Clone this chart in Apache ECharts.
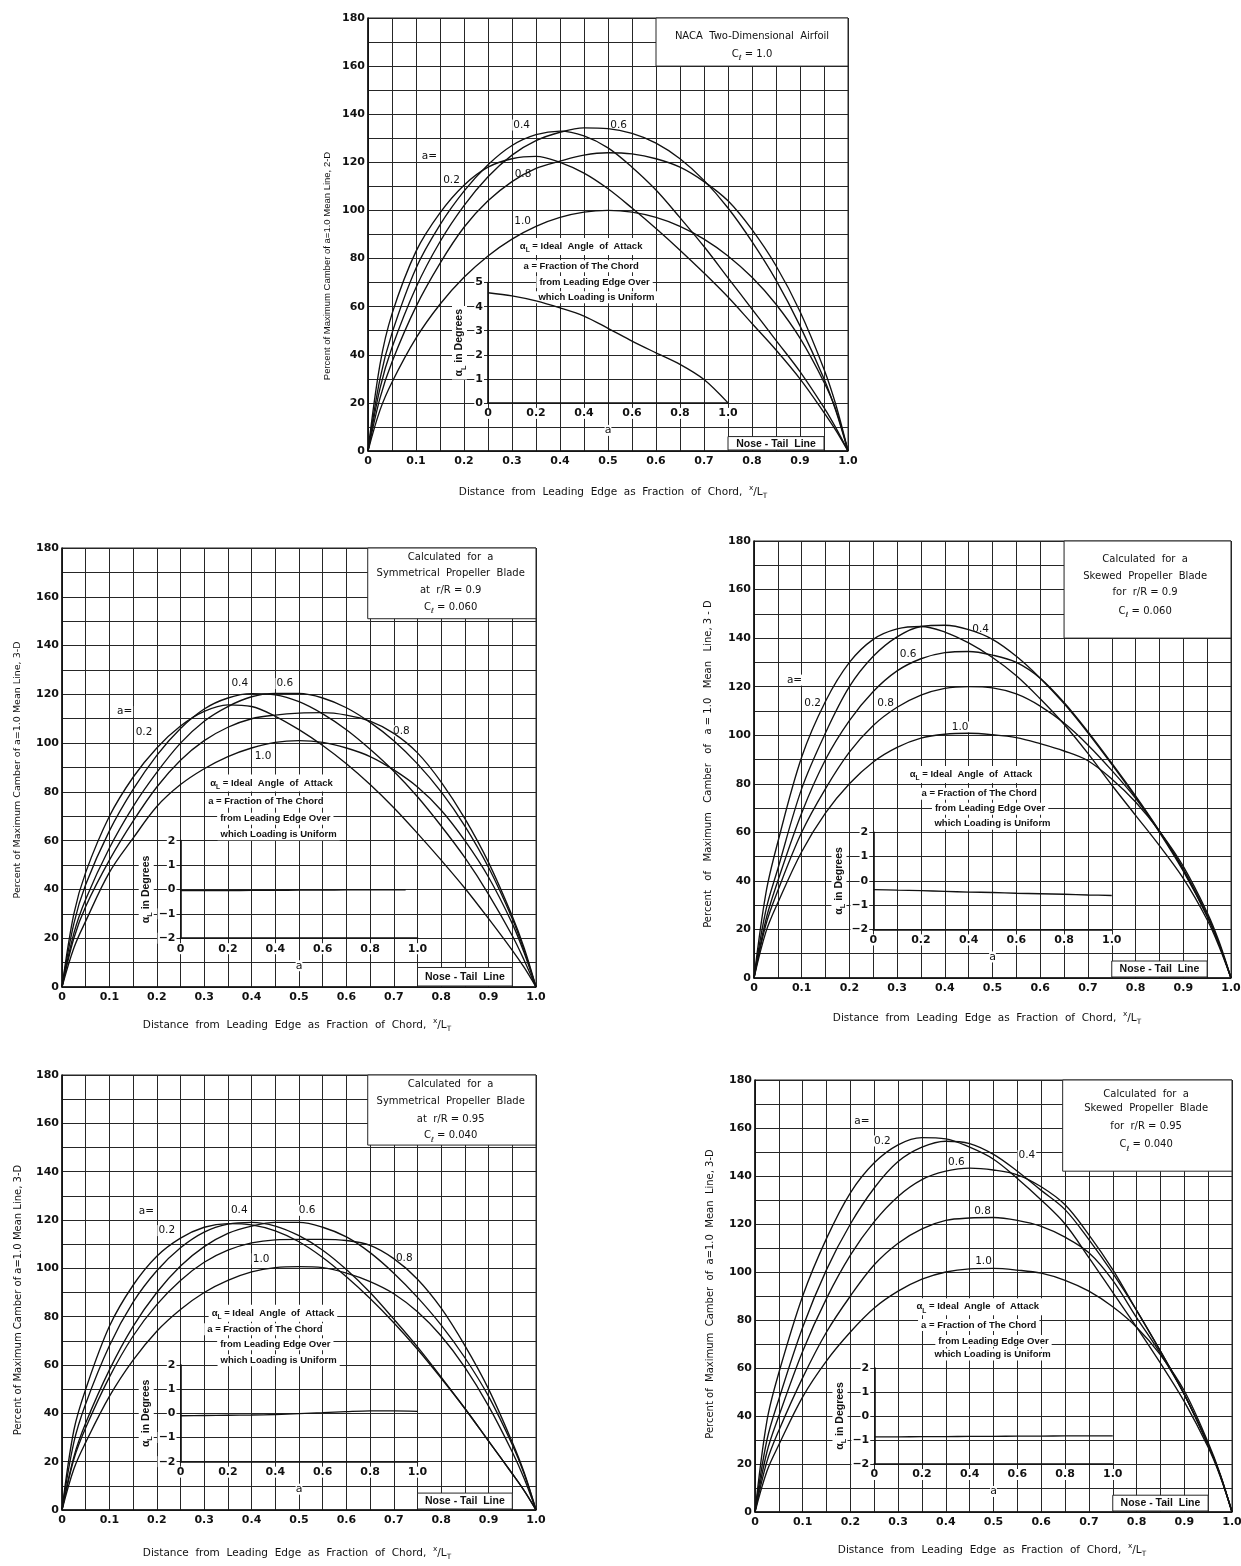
<!DOCTYPE html>
<html>
<head>
<meta charset="utf-8">
<script src="https://cdn.jsdelivr.net/npm/echarts@6/dist/echarts.min.js"></script>
<style>
  html, body { margin: 0; padding: 0; background: #fff; }
  #chart { width: 1241px; height: 1566px; }
</style>
</head>
<body>
<div id="chart"></div>
<script>
// Chordwise stations x/L_T shared by every camber curve
const xStations = [0, 0.025, 0.05, 0.1, 0.15, 0.2, 0.25, 0.3, 0.35, 0.4, 0.45, 0.5, 0.55, 0.6, 0.65, 0.7, 0.75, 0.8, 0.85, 0.9, 0.95, 0.975, 1];

// NACA two-dimensional airfoil, Cl = 1.0 (percent of a=1.0 max camber)
const twoD_a02 = [0, 36, 57, 83, 99, 110.5, 118, 121.5, 122.5, 120, 115.5, 109, 101, 92.5, 83.5, 74, 64, 53, 42, 30, 16, 8.5, 0];
const twoD_a04 = [0, 30, 49, 76, 94, 108, 119, 127, 131.5, 133, 131, 126, 118, 108.5, 97, 85, 72, 59, 46, 33, 18, 9.5, 0];
const twoD_a06 = [0, 26, 43, 68, 87, 102, 114, 123, 129, 132.5, 134.3, 134, 132, 128, 121.5, 112.5, 101, 87, 71, 52, 30, 16.5, 0];
const twoD_a08 = [0, 22, 37, 60, 78, 93, 104, 112, 117.5, 120.5, 123, 124, 123.5, 121.5, 118, 112, 104, 92, 77, 58, 34, 19, 0];
const twoD_a10 = [0, 17, 28.6, 46.9, 61, 72.2, 81.1, 88.1, 93.4, 97.1, 99.3, 100, 99.3, 97.1, 93.4, 88.1, 81.1, 72.2, 61, 46.9, 28.6, 17, 0];

// Symmetrical propeller blade, r/R = 0.9, Cl = 0.060
const symR90_a02 = [0, 30, 47, 70, 86, 98, 107, 113, 115.7, 115, 111, 105.5, 99, 91.5, 83, 73.5, 63, 52, 40.5, 28, 15, 8, 0];
const symR90_a04 = [0, 26, 42, 64, 81, 95, 106, 114, 118.5, 120.3, 119.8, 117, 112, 105.5, 97.5, 88.5, 78, 66, 53, 38, 21, 11, 0];
const symR90_a06 = [0, 22, 36, 57, 74, 88, 100, 109, 115, 119, 120.4, 120.4, 118.5, 114.5, 108.5, 101, 91.5, 80, 66, 49, 28, 15, 0];
const symR90_a08 = [0, 20, 33, 52, 68, 82, 93, 101, 106.5, 110, 111.5, 112.3, 112.5, 111.5, 109, 104, 96, 84, 69, 51, 29, 16, 0];
const symR90_a10 = [0, 16, 27, 47, 61, 74, 83, 89.5, 94.5, 98, 100.3, 101, 100.3, 98, 94.5, 89, 82, 72.5, 60, 45, 26, 14, 0];

// Skewed propeller blade, r/R = 0.9, Cl = 0.060
const skewR90_a02 = [0, 35, 56, 91, 114, 130, 139.5, 143.8, 144.8, 142.5, 138, 132, 124.5, 115, 104.5, 92.5, 79.5, 67, 54.5, 41, 24, 13, 0];
const skewR90_a04 = [0, 28, 45, 78, 101, 120, 132.5, 140.5, 144.8, 145.3, 143.5, 139.5, 132.5, 123.5, 113, 101, 88, 74.5, 60, 44, 25.5, 14, 0];
const skewR90_a06 = [0, 24, 40, 68, 90, 106, 118, 126.5, 131.5, 134, 134.5, 133, 130, 123.5, 113.5, 101.5, 88.5, 75, 60.5, 44.5, 25.5, 14, 0];
const skewR90_a08 = [0, 22, 36, 60, 78, 93, 104, 111.5, 116.5, 119.3, 120, 119.5, 117, 112, 105, 96, 85.5, 74, 60.5, 45, 26, 14, 0];
const skewR90_a10 = [0, 19, 31, 52, 68, 80, 89, 95, 98.8, 100.4, 100.8, 100.2, 99, 96.5, 93.5, 89.5, 82, 72.5, 60.5, 46, 27, 15, 0];

// Symmetrical propeller blade, r/R = 0.95, Cl = 0.040
const symR95_a02 = [0, 33, 50, 76, 93, 105, 112.5, 117, 118.5, 118, 115.5, 111, 104.5, 96.5, 87.5, 77.5, 66.5, 54.5, 42, 28.5, 15, 8, 0];
const symR95_a04 = [0, 28, 44, 68, 86, 99, 108.5, 115, 118.3, 119, 117.5, 113.5, 107.5, 99.5, 90, 79, 67.5, 55, 42, 28.5, 15, 8, 0];
const symR95_a06 = [0, 22, 36, 58, 76, 90, 101, 109, 114.5, 117.5, 119, 119, 117, 113, 106.5, 98, 88, 76.5, 63, 47, 27, 15, 0];
const symR95_a08 = [0, 21, 34, 55, 72, 85, 95, 102.5, 107.5, 110.5, 111.8, 112, 112, 111.5, 109.5, 104, 95.5, 83.5, 68, 50, 28, 15.5, 0];
const symR95_a10 = [0, 17, 28, 47, 62, 74, 83, 90, 95, 98.5, 100.3, 100.7, 100.3, 98, 94.5, 89.5, 82, 72, 59, 43, 24, 13, 0];

// Skewed propeller blade, r/R = 0.95, Cl = 0.040
const skewR95_a02 = [0, 38, 58, 90, 114, 133, 145.5, 153, 156, 155.5, 152, 147, 139, 130, 120, 106, 91.5, 77, 62, 46, 27, 15, 0];
const skewR95_a04 = [0, 30, 47, 77, 101, 120, 135, 146, 152, 154.5, 153.5, 149, 142, 134, 126, 113.5, 99.5, 84, 67, 49, 28, 15.5, 0];
const skewR95_a06 = [0, 25, 40, 67, 89, 107, 121, 131.5, 138.5, 142, 143.3, 142.5, 140.5, 135.5, 128, 115.5, 101, 84, 67, 49, 28, 15.5, 0];
const skewR95_a08 = [0, 21, 34, 56, 75, 90, 103, 112, 118, 121.5, 122.5, 122.7, 121.5, 119, 114.5, 108, 96.5, 81, 66, 49, 28, 15.5, 0];
const skewR95_a10 = [0, 17, 28, 48, 63, 75, 85, 92, 97, 100, 101.3, 101.5, 100.8, 99.5, 96.5, 92, 85.5, 77, 65.5, 50.5, 29, 16, 0];

// Ideal angle of attack (degrees) against load fraction a
const insetA = [0, 0.1, 0.2, 0.3, 0.4, 0.5, 0.6, 0.7, 0.8, 0.9, 1.0];
const insetA_short = [0, 0.1, 0.2, 0.3, 0.4, 0.5, 0.6, 0.7, 0.8, 0.9, 0.95];
const twoD_alpha = [4.58, 4.45, 4.24, 3.95, 3.61, 3.1, 2.57, 2.08, 1.6, 0.97, 0];
const symR90_alpha = [-0.05, -0.05, -0.05, -0.04, -0.04, -0.03, -0.03, -0.02, -0.02, -0.02, -0.02];
const skewR90_alpha = [-0.36, -0.38, -0.40, -0.43, -0.46, -0.48, -0.51, -0.53, -0.55, -0.58, -0.6];
const symR95_alpha = [-0.1, -0.09, -0.08, -0.07, -0.05, -0.01, 0.03, 0.07, 0.1, 0.1, 0.08];
const skewR95_alpha = [-0.87, -0.87, -0.86, -0.86, -0.85, -0.85, -0.84, -0.84, -0.83, -0.83, -0.83];

// Tick labels
const chordTicks = ['0', '0.1', '0.2', '0.3', '0.4', '0.5', '0.6', '0.7', '0.8', '0.9', '1.0'];
const loadTicks = ['0', '0.2', '0.4', '0.6', '0.8', '1.0'];

const SANS = '"Liberation Sans", Arial, sans-serif';
const WIDE = '"DejaVu Sans", sans-serif';
const INK = '#111';
const GRIDINK = '#262626';

function richSet(size, family, weight) {
  const g = { fontSize: size, fontFamily: family, fontWeight: weight, fill: INK, color: INK, lineHeight: 15 };
  return {
    g: g,
    s: { fontSize: size * 0.7, fontFamily: family, fontWeight: weight, fill: INK, color: INK, verticalAlign: 'bottom', lineHeight: 15 },
    p: { fontSize: size * 0.7, fontFamily: family, fontWeight: weight, fill: INK, color: INK, verticalAlign: 'top', lineHeight: 15 }
  };
}
const clText = v => '{g|C}{s|\u2113}{g| = ' + v + '}';

const panels = [
  {
    grid: { left: 368, top: 18, width: 480, height: 433 },
    curves: [twoD_a02, twoD_a04, twoD_a06, twoD_a08, twoD_a10],
    alphaA: insetA, alpha: twoD_alpha, insetRange: [0, 5], insetTop: 70,
    box: { x0: 0.6, y0: 160, cx: 0.8, lines: [['NACA  Two-Dimensional  Airfoil', 172.2], [clText('1.0'), 165]] },
    labels: [['a=', 0.128, 122.6], ['0.2', 0.174, 112.5], ['0.4', 0.32, 135.5], ['0.6', 0.522, 135.5], ['0.8', 0.323, 115], ['1.0', 0.322, 95.3]],
    notes: [[0.444, 85], [0.444, 76.8], [0.472, 70.3], [0.476, 63.9]],
    noseTop: 6,
    yTitle: { text: 'Percent of Maximum Camber of a=1.0 Mean Line, 2-D', x: 327, y: 266, size: 9.5, family: SANS },
    xTitle: { x: 613, y: 492 }
  },
  {
    grid: { left: 62, top: 548, width: 474, height: 439 },
    curves: [symR90_a02, symR90_a04, symR90_a06, symR90_a08, symR90_a10],
    alphaA: insetA_short, alpha: symR90_alpha, insetRange: [-2, 2], insetTop: 60,
    box: { x0: 0.645, y0: 151, cx: 0.82, lines: [['Calculated  for  a', 176.3], ['Symmetrical  Propeller  Blade', 169.4], ['at  r/R = 0.9', 162.5], [clText('0.060'), 155.6]] },
    labels: [['a=', 0.132, 113], ['0.2', 0.173, 104.5], ['0.4', 0.375, 124.4], ['0.6', 0.47, 124.4], ['0.8', 0.716, 105], ['1.0', 0.424, 94.5]],
    notes: [[0.442, 83.6], [0.43, 76], [0.45, 69], [0.457, 62.6]],
    noseTop: 8,
    yTitle: { text: 'Percent of Maximum Camber of a=1.0 Mean Line, 3-D', x: 18, y: 770, size: 9.5, family: WIDE },
    xTitle: { x: 297, y: 1025 }
  },
  {
    grid: { left: 754, top: 541, width: 477, height: 437 },
    curves: [skewR90_a02, skewR90_a04, skewR90_a06, skewR90_a08, skewR90_a10],
    alphaA: insetA, alpha: skewR90_alpha, insetRange: [-2, 2], insetTop: 60,
    box: { x0: 0.65, y0: 140, cx: 0.82, lines: [['Calculated  for  a', 172.6], ['Skewed  Propeller  Blade', 165.6], ['for  r/R = 0.9', 158.9], [clText('0.060'), 151.2]] },
    labels: [['a=', 0.085, 122.7], ['0.2', 0.123, 113.3], ['0.4', 0.475, 143.6], ['0.6', 0.323, 133.4], ['0.8', 0.276, 113.3], ['1.0', 0.432, 103.4]],
    notes: [[0.455, 83.8], [0.472, 75.9], [0.495, 69.7], [0.5, 63.5]],
    noseTop: 7,
    yTitle: { text: 'Percent   of   Maximum   Camber   of   a = 1.0   Mean   Line, 3 - D', x: 708, y: 764, size: 10, family: WIDE },
    xTitle: { x: 987, y: 1018 }
  },
  {
    grid: { left: 62, top: 1075, width: 474, height: 435 },
    curves: [symR95_a02, symR95_a04, symR95_a06, symR95_a08, symR95_a10],
    alphaA: insetA, alpha: symR95_alpha, insetRange: [-2, 2], insetTop: 60,
    box: { x0: 0.645, y0: 151, cx: 0.82, lines: [['Calculated  for  a', 176.2], ['Symmetrical  Propeller  Blade', 169], ['at  r/R = 0.95', 161.8], [clText('0.040'), 154.8]] },
    labels: [['a=', 0.178, 123.5], ['0.2', 0.221, 115.6], ['0.4', 0.374, 124], ['0.6', 0.517, 124], ['1.0', 0.42, 103.9], ['0.8', 0.722, 104]],
    notes: [[0.445, 81.4], [0.428, 74.8], [0.45, 68.6], [0.457, 62]],
    noseTop: 7,
    yTitle: { text: 'Percent of Maximum Camber of a=1.0 Mean Line, 3-D', x: 18, y: 1300, size: 10, family: WIDE },
    xTitle: { x: 297, y: 1553 }
  },
  {
    grid: { left: 755, top: 1080, width: 477, height: 432 },
    curves: [skewR95_a02, skewR95_a04, skewR95_a06, skewR95_a08, skewR95_a10],
    alphaA: insetA, alpha: skewR95_alpha, insetRange: [-2, 2], insetTop: 60,
    box: { x0: 0.645, y0: 142, cx: 0.82, lines: [['Calculated  for  a', 174], ['Skewed  Propeller  Blade', 168], ['for  r/R = 0.95', 160.6], [clText('0.040'), 153]] },
    labels: [['a=', 0.224, 162.7], ['0.2', 0.267, 154.6], ['0.6', 0.422, 145.6], ['0.4', 0.57, 148.5], ['0.8', 0.477, 125.4], ['1.0', 0.479, 104.6]],
    notes: [[0.467, 85.5], [0.469, 77.9], [0.5, 71.3], [0.498, 65.6]],
    noseTop: 7,
    yTitle: { text: 'Percent of  Maximum  Camber  of  a=1.0  Mean  Line, 3-D', x: 710, y: 1294, size: 10, family: WIDE },
    xTitle: { x: 992, y: 1550 }
  }
];

const noteLines = [
  '{g|\u03b1}{s|L}{g| = Ideal  Angle  of  Attack}',
  'a = Fraction of The Chord',
  'from Leading Edge Over',
  'which Loading is Uniform'
];

// Data coordinates of a main panel to page pixels (used for annotation placement)
function px(g, x, y) {
  return [g.left + x * g.width, g.top + (180 - y) / 180 * g.height];
}

function textEl(str, pos, size, family, weight, extra) {
  return {
    type: 'text', x: pos[0], y: pos[1], z: 1, silent: true,
    style: Object.assign({
      text: str, fontSize: size, fontFamily: family, fontWeight: weight, fill: INK,
      align: 'center', verticalAlign: 'middle',
      rich: richSet(size, family, weight)
    }, extra || {})
  };
}

const chordLabel = v => { const k = Math.round(v * 20); return k % 2 ? '' : chordTicks[k / 2]; };
const camberLabel = v => (Math.round(v) % 20 === 0 ? String(Math.round(v)) : '');
const loadLabel = v => loadTicks[Math.round(v * 5)] || '';
const degLabel = v => (v < 0 ? '\u2212' + Math.abs(v) : String(v));

const option = {
  animation: false,
  backgroundColor: '#fff',
  grid: [], xAxis: [], yAxis: [], series: [], graphic: []
};

panels.forEach((p, i) => {
  const g = p.grid;
  const mainIdx = 2 * i, insIdx = 2 * i + 1;
  option.grid.push({
    left: g.left, top: g.top, width: g.width, height: g.height,
    show: true, borderColor: GRIDINK, borderWidth: 1, backgroundColor: 'transparent',
    containLabel: false, outerBoundsMode: 'none'
  });
  const insTop = px(g, 0, p.insetTop)[1];
  const insBottom = px(g, 0, 20)[1];
  option.grid.push({
    left: g.left + 0.25 * g.width, top: insTop, width: 0.5 * g.width, height: insBottom - insTop,
    show: false, containLabel: false, outerBoundsMode: 'none'
  });

  const tickStyle = { color: INK, fontSize: 11, fontFamily: WIDE, fontWeight: 'bold' };
  option.xAxis.push({
    type: 'value', gridIndex: mainIdx, min: 0, max: 1, interval: 0.05,
    axisLine: { show: true, onZero: false, lineStyle: { color: INK, width: 1.6 } },
    axisTick: { show: false },
    splitLine: { show: true, lineStyle: { color: GRIDINK, width: 1 } },
    axisLabel: Object.assign({ formatter: chordLabel, margin: 5, showMinLabel: true, showMaxLabel: true }, tickStyle)
  });
  option.yAxis.push({
    type: 'value', gridIndex: mainIdx, min: 0, max: 180, interval: 10,
    axisLine: { show: true, onZero: false, lineStyle: { color: INK, width: 1.6 } },
    axisTick: { show: false },
    splitLine: { show: true, lineStyle: { color: GRIDINK, width: 1 } },
    axisLabel: Object.assign({ formatter: camberLabel, margin: 3, showMinLabel: true, showMaxLabel: true }, tickStyle)
  });
  option.xAxis.push({
    type: 'value', gridIndex: insIdx, min: 0, max: 1, interval: 0.2, z: 3,
    axisLine: { show: true, onZero: false, lineStyle: { color: INK, width: 1.6 } },
    axisTick: { show: false }, splitLine: { show: false },
    axisLabel: Object.assign({ formatter: loadLabel, margin: 5, backgroundColor: '#fff', padding: [0, 2], showMinLabel: true, showMaxLabel: true }, tickStyle),
    name: 'a', nameLocation: 'middle', nameGap: 22,
    nameTextStyle: { color: INK, fontSize: 11, fontFamily: WIDE, backgroundColor: '#fff' }
  });
  option.yAxis.push({
    type: 'value', gridIndex: insIdx, min: p.insetRange[0], max: p.insetRange[1], interval: 1, z: 3,
    axisLine: { show: true, onZero: false, lineStyle: { color: INK, width: 1.6 } },
    axisTick: { show: false }, splitLine: { show: false },
    axisLabel: Object.assign({ formatter: degLabel, margin: 4, backgroundColor: '#fff', padding: [0, 1], showMinLabel: true, showMaxLabel: true }, tickStyle),
    name: '{g|\u03b1}{s|L}{g| in Degrees}', nameLocation: 'middle', nameGap: 21,
    nameTextStyle: { backgroundColor: '#fff', padding: [0, 3], rich: richSet(10.5, SANS, 'bold') }
  });

  p.curves.forEach(arr => {
    option.series.push({
      type: 'line', xAxisIndex: mainIdx, yAxisIndex: mainIdx,
      data: xStations.map((x, k) => [x, arr[k]]),
      showSymbol: false, smooth: 0.35, silent: true, z: 4,
      lineStyle: { color: INK, width: 1.35 }
    });
  });
  option.series.push({
    type: 'line', xAxisIndex: insIdx, yAxisIndex: insIdx,
    data: p.alphaA.map((a, k) => [a, p.alpha[k]]),
    showSymbol: false, smooth: 0.3, silent: true, z: 4,
    lineStyle: { color: INK, width: 1.35 }
  });

  // Title box in the upper right corner
  const b = p.box;
  const tl = px(g, b.x0, 180), br = px(g, 1, b.y0);
  option.graphic.push({
    type: 'rect', z: 3, silent: true,
    shape: { x: tl[0], y: tl[1], width: br[0] - tl[0], height: br[1] - tl[1] },
    style: { fill: '#fff', stroke: GRIDINK, lineWidth: 1 }
  });
  b.lines.forEach(([t, y]) => {
    const el = textEl(t, px(g, b.cx, y), 10, WIDE, 'normal');
    el.z = 4;
    option.graphic.push(el);
  });

  // Explanatory notes
  p.notes.forEach(([x, y], k) => {
    option.graphic.push(textEl(noteLines[k], px(g, x, y), 9.5, SANS, 'bold', { backgroundColor: '#fff', padding: [1, 3] }));
  });

  // Curve labels
  p.labels.forEach(([t, x, y]) => {
    option.graphic.push(textEl(t, px(g, x, y), 10.5, WIDE, 'normal', { backgroundColor: '#fff', padding: [0, 1] }));
  });

  // Nose-tail line box
  const n0 = px(g, 0.75, p.noseTop), n1 = px(g, 0.95, 0);
  option.graphic.push({
    type: 'rect', z: 1, silent: true,
    shape: { x: n0[0], y: n0[1], width: n1[0] - n0[0], height: n1[1] - n0[1] - 1 },
    style: { fill: '#fff', stroke: GRIDINK, lineWidth: 1 }
  });
  option.graphic.push(textEl('Nose - Tail  Line', [(n0[0] + n1[0]) / 2, (n0[1] + n1[1]) / 2], 10.5, SANS, 'bold'));

  // Axis titles
  const yt = p.yTitle;
  const yEl = textEl(yt.text, [yt.x, yt.y], yt.size, yt.family, 'normal');
  yEl.rotation = Math.PI / 2;
  option.graphic.push(yEl);
  option.graphic.push(textEl('Distance  from  Leading  Edge  as  Fraction  of  Chord,  {p|x}/L{s|T}', [p.xTitle.x, p.xTitle.y], 10.5, WIDE, 'normal'));
});

const chart = echarts.init(document.getElementById('chart'), null, { renderer: 'canvas' });
chart.setOption(option);
</script>
</body>
</html>
